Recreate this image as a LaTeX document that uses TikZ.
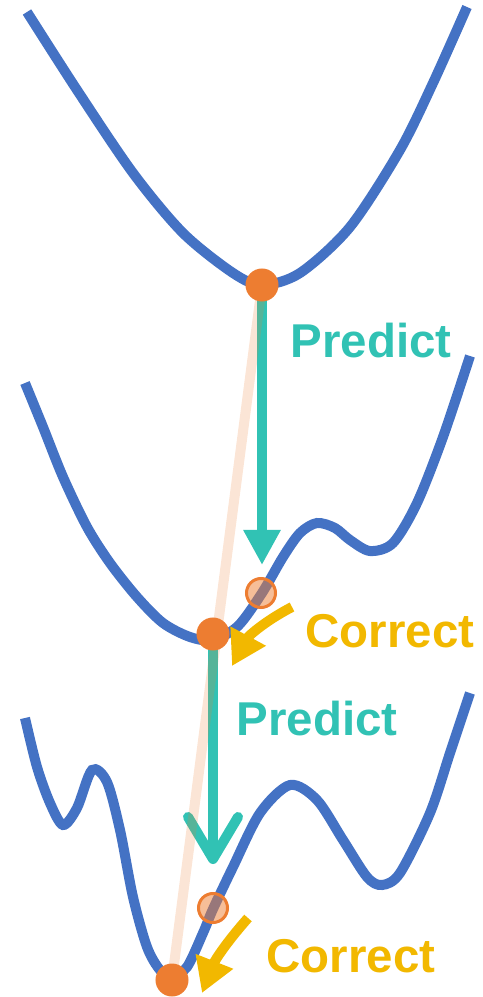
\documentclass[tikz,border=0pt]{standalone}
\usepackage{fontspec}
\setmainfont{Liberation Sans}
\usetikzlibrary{arrows.meta}
\definecolor{landblue}{HTML}{4472C4}
\definecolor{ballorange}{HTML}{ED7D31}
\definecolor{predteal}{HTML}{31C2B4}
\definecolor{corrgold}{HTML}{F2B800}

\begin{document}
\begin{tikzpicture}[x=0.01cm,y=-0.01cm,
  landscape/.style={draw=landblue,line width=1mm},
  predict/.style={draw=predteal,line width=1mm},
  correct/.style={draw=corrgold,line width=1mm,-{Triangle[length=3.4mm,width=3.8mm]}},
  ghost/.style={draw=ballorange,draw opacity=0.2,line width=1mm},
  ball/.style={circle,fill=ballorange,minimum size=3.3mm,inner sep=0},
  guess/.style={circle,draw=ballorange,fill=ballorange,fill opacity=0.5,line width=0.3mm,minimum size=2.9mm,inner sep=0},
  steplabel/.style={anchor=base west,inner sep=0,font=\bfseries\fontsize{13.5}{16}\selectfont}]
\useasboundingbox (0,0) rectangle (483,997);
% positions:
\coordinate (m1) at (262,285);
\coordinate (m2) at (213,634);
\coordinate (m3) at (172,980);
\coordinate (g1) at (261,593);
\coordinate (g2) at (213,908);
\coordinate (t1) at (262,565);
\coordinate (t2) at (213,864);
\coordinate (c1) at (292,607);
\coordinate (e1) at (232,666);
\coordinate (c2) at (248,918);
\coordinate (e2) at (202,993);
% landscapes:
\draw[landscape] plot[smooth] coordinates {(27,12) (77,90) (133,173) (183,233) (233,273) (262,285) (300,273) (350,227) (400,150) (433,83) (467,7)};
\draw[landscape] plot[smooth] coordinates {(25,383) (43,427) (63,477) (87,527) (110,563) (137,597) (163,623) (190,637) (213,640) (238,626) (262,593) (283,557) (300,533) (317,523) (335,528) (350,540) (370,551) (393,543) (417,503) (443,437) (470,356)};
\draw[landscape] plot[smooth] coordinates {(25,718) (37,767) (50,803) (63,825) (77,808) (92,770) (107,782) (120,830) (133,897) (147,947) (160,970) (172,976) (187,967) (203,933) (213,909) (233,867) (260,813) (290,785) (317,800) (343,840) (367,877) (382,885) (400,873) (430,813) (450,753) (470,693)};
% predict steps:
\draw[predict,-{Triangle[length=3.5mm,width=3.5mm]}] (m1) -- (t1);
\draw[predict,-{Straight Barb[length=4.2mm,width=5mm,round]}] (m2) -- (t2);
\draw[ghost] (m1) -- (m3);
% balls:
\node[ball] (b1) at (m1) {};
\node[ball] (b2) at (m2) {};
\node[ball] (b3) at (m3) {};
\node[guess] (q1) at (g1) {};
\node[guess] (q2) at (g2) {};
% correct steps:
\draw[correct] (c1) to[bend right=17] (e1);
\draw[correct] (c2) to[bend right=10] (e2);
\node[steplabel,text=predteal] (p1) at (290,357) {Predict};
\node[steplabel,text=corrgold] (k1) at (305,647) {Correct};
\node[steplabel,text=predteal] (p2) at (236,735) {Predict};
\node[steplabel,text=corrgold] (k2) at (266,972) {Correct};
\end{tikzpicture}
\end{document}
